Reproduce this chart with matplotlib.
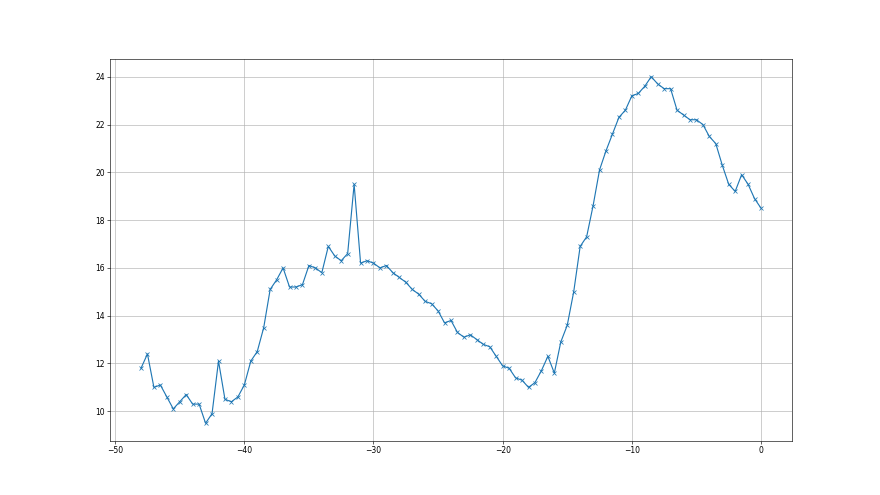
import numpy as np
import matplotlib
matplotlib.use("Agg")
import matplotlib.pyplot as plt

x_start = -48.0
x_step = 0.5
values = [
    11.8, 12.4, 11.0, 11.1, 10.6, 10.1, 10.4, 10.7, 10.3, 10.3,
    9.5, 9.9, 12.1, 10.5, 10.4, 10.6, 11.1, 12.1, 12.5, 13.5,
    15.1, 15.5, 16.0, 15.2, 15.2, 15.3, 16.1, 16.0, 15.8, 16.9,
    16.5, 16.3, 16.6, 19.5, 16.2, 16.3, 16.2, 16.0, 16.1, 15.8,
    15.6, 15.4, 15.1, 14.9, 14.6, 14.5, 14.2, 13.7, 13.8, 13.3,
    13.1, 13.2, 13.0, 12.8, 12.7, 12.3, 11.9, 11.8, 11.4, 11.3,
    11.0, 11.2, 11.7, 12.3, 11.6, 12.9, 13.6, 15.0, 16.9, 17.3,
    18.6, 20.1, 20.9, 21.6, 22.3, 22.6, 23.2, 23.3, 23.6, 24.0,
    23.7, 23.5, 23.5, 22.6, 22.4, 22.2, 22.2, 22.0, 21.5, 21.2,
    20.3, 19.5, 19.2, 19.9, 19.5, 18.9, 18.5,
]
x = x_start + x_step * np.arange(len(values))

fig, ax = plt.subplots(figsize=(16, 9), dpi=55)
ax.plot(x, values, marker='x', color='#1f77b4')
ax.grid(True)
fig.savefig("out.png", dpi=55)
